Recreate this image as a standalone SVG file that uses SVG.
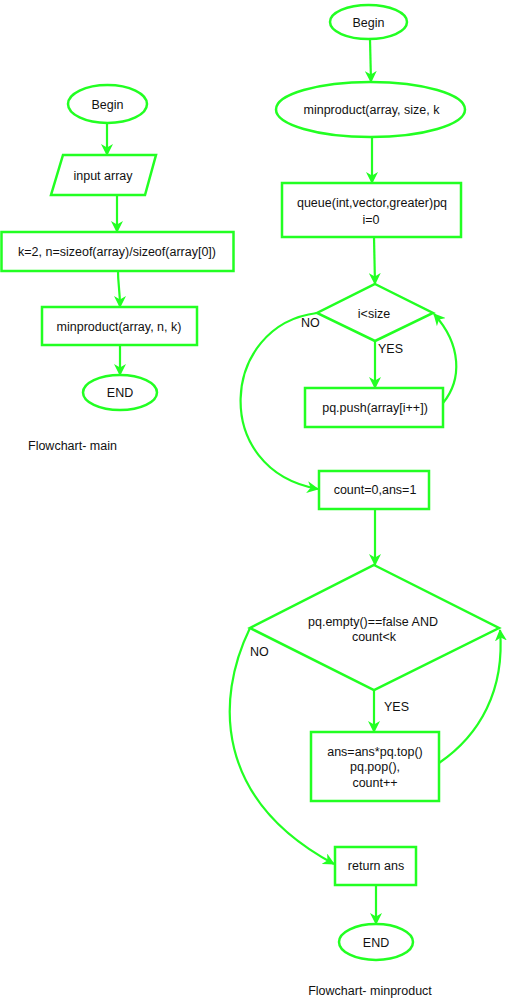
<svg xmlns="http://www.w3.org/2000/svg" width="509" height="998" viewBox="0 0 509 998">
<style>
.s{fill:#ffffff;stroke:#22ff22;stroke-width:2.5}
.c{fill:none;stroke:#22ff22;stroke-width:2.2}
text{font-family:"Liberation Sans",Arial,sans-serif;font-size:12.5px;fill:#111111}
.m{text-anchor:middle}
</style>
<defs>
<marker id="ah" viewBox="0 0 12 12" refX="11" refY="6" markerWidth="12" markerHeight="12" markerUnits="userSpaceOnUse" orient="auto">
<path d="M0,0 L12,6 L0,12 L3.5,6 z" fill="#22ff22"/>
</marker>
</defs>
<rect width="509" height="998" fill="#ffffff"/>
<g id="connectors">
<path class="c" marker-end="url(#ah)" d="M107,123 L107,155"/>
<path class="c" marker-end="url(#ah)" d="M117,195 L117,232"/>
<path class="c" marker-end="url(#ah)" d="M118,271 C118,285 120,290 120,307"/>
<path class="c" marker-end="url(#ah)" d="M120,345 L120,375"/>
<path class="c" marker-end="url(#ah)" d="M370,39 L371,82"/>
<path class="c" marker-end="url(#ah)" d="M372,137 L372,183"/>
<path class="c" marker-end="url(#ah)" d="M374,237 L375,284"/>
<path class="c" marker-end="url(#ah)" d="M375,341 L375,388"/>
<path class="c" marker-end="url(#ah)" d="M443,403 C462,380 462,345 434,314"/>
<path class="c" marker-end="url(#ah)" d="M317,313 C220,325 210,470 318,489"/>
<path class="c" marker-end="url(#ah)" d="M375,509 L375,565"/>
<path class="c" marker-end="url(#ah)" d="M374,690 L374,732"/>
<path class="c" marker-end="url(#ah)" d="M439,763 C480,735 505,690 500,630"/>
<path class="c" marker-end="url(#ah)" d="M250,628 C215,700 215,800 334,864"/>
<path class="c" marker-end="url(#ah)" d="M376,885 L376,924"/>
</g>
<g id="main-begin">
<ellipse class="s" cx="107.5" cy="104" rx="39.5" ry="19"/>
<text class="m" x="107.5" y="108.5">Begin</text>
</g>
<g id="main-input">
<polygon class="s" points="63,155 156,155 145,195 51,195"/>
<text class="m" x="103" y="180">input array</text>
</g>
<g id="main-init">
<rect class="s" x="1.5" y="232" width="232" height="39"/>
<text class="m" x="117" y="256">k=2, n=sizeof(array)/sizeof(array[0])</text>
</g>
<g id="main-call">
<rect class="s" x="42" y="307" width="155" height="38"/>
<text class="m" x="119" y="331">minproduct(array, n, k)</text>
</g>
<g id="main-end">
<ellipse class="s" cx="120" cy="392.5" rx="37" ry="17.5"/>
<text class="m" x="120" y="397">END</text>
</g>
<g id="main-caption">
<text x="28" y="450">Flowchart- main</text>
</g>
<g id="mp-begin">
<ellipse class="s" cx="368.5" cy="22" rx="38.5" ry="17"/>
<text class="m" x="368.5" y="26.5">Begin</text>
</g>
<g id="mp-func">
<ellipse class="s" cx="370.5" cy="109.5" rx="94.5" ry="27.5"/>
<text class="m" x="371.5" y="114">minproduct(array, size, k</text>
</g>
<g id="mp-queue">
<rect class="s" x="282" y="183" width="179" height="54"/>
<text class="m" x="372" y="207">queue(int,vector,greater)pq</text>
<text class="m" x="371" y="224">i=0</text>
</g>
<g id="mp-cond1">
<polygon class="s" points="375,284 433,313 375,341 317,313"/>
<text class="m" x="374" y="318">i&lt;size</text>
</g>
<g id="mp-push">
<rect class="s" x="305" y="388" width="138" height="39"/>
<text class="m" x="375" y="412">pq.push(array[i++])</text>
</g>
<g id="mp-count">
<rect class="s" x="319" y="471" width="110" height="38"/>
<text class="m" x="375" y="494">count=0,ans=1</text>
</g>
<g id="mp-cond2">
<polygon class="s" points="374,565 499,628 374,690 250,628"/>
<text class="m" x="373" y="626">pq.empty()==false AND</text>
<text class="m" x="374" y="641">count&lt;k</text>
</g>
<g id="mp-body">
<rect class="s" x="311" y="732" width="128" height="69"/>
<text class="m" x="375" y="756">ans=ans*pq.top()</text>
<text class="m" x="375" y="771">pq.pop(),</text>
<text class="m" x="375" y="787">count++</text>
</g>
<g id="mp-return">
<rect class="s" x="335" y="847" width="81" height="38"/>
<text class="m" x="376" y="870">return ans</text>
</g>
<g id="mp-end">
<ellipse class="s" cx="376" cy="942" rx="37" ry="18"/>
<text class="m" x="376" y="946.5">END</text>
</g>
<g id="labels">
<text x="301" y="327">NO</text>
<text x="378" y="353">YES</text>
<text x="250" y="656">NO</text>
<text x="384" y="711">YES</text>
</g>
<g id="mp-caption">
<text class="m" x="370" y="995">Flowchart- minproduct</text>
</g>
</svg>
